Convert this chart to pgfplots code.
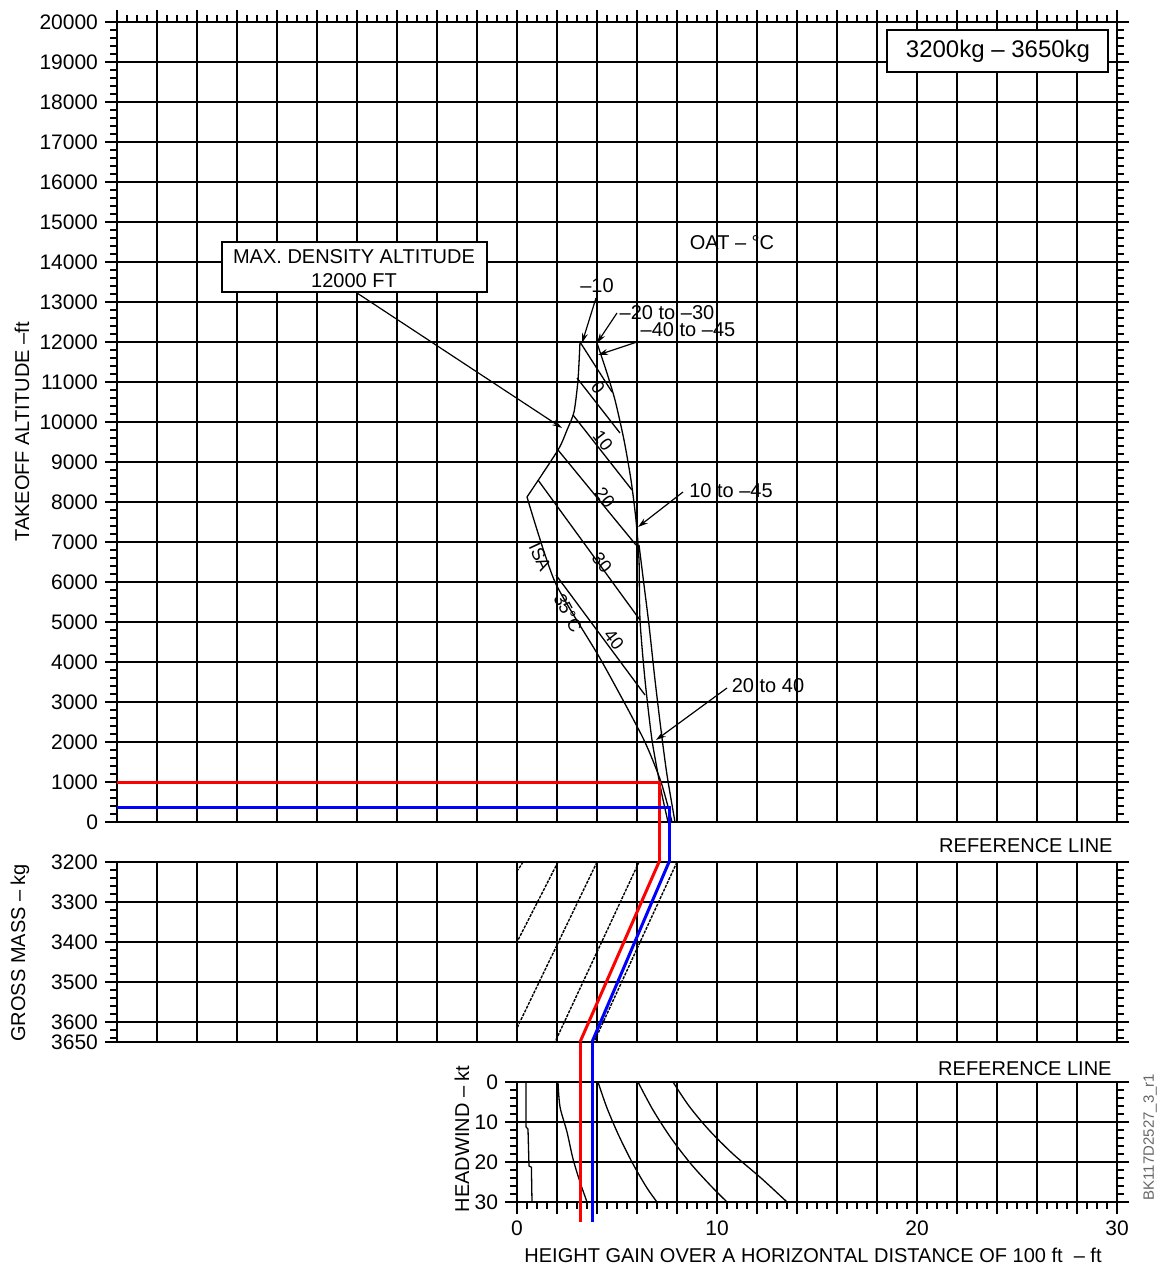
\documentclass[border=0pt]{standalone}
\usepackage{pgfplots}
\pgfplotsset{compat=1.18}
\usepackage{fontspec}
\setmainfont{Liberation Sans}
\usetikzlibrary{arrows.meta}
\tikzset{
  thinline/.style={black, line width=0.65pt},
  arr/.style={black, line width=0.6pt, -{Stealth[length=5pt,width=3pt]}},
  lab/.style={font=\fontsize{10}{12}\selectfont, inner sep=0pt},
  tlab/.style={font=\fontsize{9}{10}\selectfont, inner sep=0pt},
}
\begin{document}
\fontsize{10}{12}\selectfont
\begin{tikzpicture}
\path[use as bounding box] (0pt,0pt) rectangle (579pt,-634.5pt);
\pgfplotsset{
  every axis/.append style={
    scale only axis, clip=false,
    axis line style={line width=1.25pt},
    major grid style={line width=1.2pt, black},
    tick align=outside,
    major tick length=6pt, minor tick length=3.5pt,
    tick style={black, line width=0.85pt},
    tick label style={font=\fontsize{10.5}{12}\selectfont},
    /pgf/number format/1000 sep={},
    /pgf/number format/assume math mode=true,
  },
}
% ---------------- bottom panel (drawn first) ----------------
\begin{axis}[
  at={(258.5pt,-601pt)}, anchor=south west,
  width=300pt, height=60pt,
  xmin=0, xmax=30, ymin=0, ymax=30, y dir=reverse,
  xtick={0,2,...,30}, xticklabels={0,,,,,10,,,,,20,,,,,30},
  minor x tick num=3, xtick pos=left,
  ytick={0,10,20,30}, minor y tick num=4, ytick pos=both, yticklabel pos=left,
  grid=major,
]
\addplot[thinline] coordinates {(0.45,0)(0.45,11.2)(0.55,11.8)(0.6,21)(0.72,21.3)(0.75,30)};
\addplot[thinline, smooth] coordinates {(2.05,0)(2.15,6.2)(2.5,12.5)(2.8,19.2)(3.15,25)(3.5,30)};
\addplot[thinline, smooth] coordinates {(4.05,0)(4.5,6.5)(5.1,13.5)(5.8,20.5)(6.5,26.5)(7.0,30)};
\addplot[thinline, smooth] coordinates {(6.05,0)(6.8,7)(7.7,14)(8.7,20.5)(9.7,26)(10.5,30)};
\addplot[thinline, smooth] coordinates {(7.8,0)(8.6,6)(9.6,12)(10.8,18)(12.2,24)(13.5,30)};
\addplot[red, line width=1.5pt] coordinates {(3.15,-10.25)(3.15,35)};
\addplot[blue, line width=1.5pt] coordinates {(3.75,-10.25)(3.75,35)};
\node[lab, anchor=east] at (axis cs:29.75,-3.25) {REFERENCE LINE};
\node[lab, rotate=90] at (axis cs:-2.75,14.25) {HEADWIND – kt};
\node[lab] at (axis cs:14.8,43.25) {HEIGHT GAIN OVER A HORIZONTAL DISTANCE OF 100 ft \ – ft};
\node[font=\fontsize{7.5}{9}\selectfont, text=black!60, rotate=90, inner sep=0pt] at (axis cs:31.65,13.75) {BK117D2527\_3\_r1};
\end{axis}
% ---------------- middle panel ----------------
\begin{axis}[
  at={(58.5pt,-521pt)}, anchor=south west,
  width=500pt, height=90pt,
  xmin=-20, xmax=30, ymin=3200, ymax=3650, y dir=reverse,
  xtick={-20,-18,...,30}, xticklabels={}, xtick style={draw=none},
  ytick={3200,3300,3400,3500,3600,3650},
  minor ytick={3220,3240,3260,3280,3320,3340,3360,3380,3420,3440,3460,3480,3520,3540,3560,3580,3620,3640},
  ytick pos=both, yticklabel pos=left,
  grid=major,
]
\addplot[black, line width=0.7pt, dash pattern=on 1.5pt off 0.6pt] coordinates {(0.3,3200)(0.05,3220)};
\addplot[black, line width=0.7pt, dash pattern=on 1.5pt off 0.6pt] coordinates {(2.05,3200)(0,3400)};
\addplot[black, line width=0.7pt, dash pattern=on 1.5pt off 0.6pt] coordinates {(4.0,3200)(0,3615)};
\addplot[black, line width=0.7pt, dash pattern=on 1.5pt off 0.6pt] coordinates {(6.1,3200)(1.9,3650)};
\addplot[black, line width=0.7pt, dash pattern=on 1.5pt off 0.6pt] coordinates {(8.0,3200)(3.85,3650)};
\addplot[red, line width=1.5pt] coordinates {(7.1,3200)(3.15,3650)};
\addplot[blue, line width=1.5pt] coordinates {(7.6,3200)(3.75,3650)};
\node[lab, rotate=90] at (axis cs:-24.85,3427) {GROSS MASS – kg};
\end{axis}
% ---------------- top panel ----------------
\begin{axis}[
  at={(58.5pt,-411pt)}, anchor=south west,
  width=500pt, height=400pt,
  xmin=-20, xmax=30, ymin=0, ymax=20000,
  xtick={-20,-18,...,30}, minor x tick num=3,
  xtick pos=right, xticklabels={},
  ytick={0,1000,...,20000}, minor y tick num=4,
  ytick pos=both, yticklabel pos=left,
  scaled y ticks=false,
  grid=major,
]
% envelopes
\addplot[thinline] coordinates {(4.0,12000)(3.15,12000)};
\addplot[thinline, smooth, tension=0.4] coordinates {(3.15,12000)(3.05,11050)(2.85,10250)(2.5,9800)(2.05,9300)(0.5,8125)};
\addplot[thinline, smooth, tension=0.4] coordinates {(0.5,8125)(1.9,6000)(4.2,4050)(6.3,2100)(7.2,1000)(7.75,0)};
\addplot[thinline, smooth, tension=0.4] coordinates {(4.0,11975)(4.45,11300)(4.9,10550)(5.35,9550)(5.7,8550)(5.95,7550)(6.1,6550)(6.15,5050)(6.4,3550)(6.75,2050)(7.2,800)(7.55,0)};
\addplot[thinline, smooth, tension=0.4] coordinates {(6.1,6925)(6.35,5925)(6.6,4925)(6.9,3550)(7.2,2300)(7.5,1175)(7.9,0)};
% temperature lines
\addplot[thinline] coordinates {(3.15,12000)(4.75,10750)};
\addplot[thinline] coordinates {(3.0,11100)(5.15,9725)};
\addplot[thinline] coordinates {(2.8,10175)(5.75,8300)};
\addplot[thinline] coordinates {(2.05,9300)(5.95,6925)};
\addplot[thinline] coordinates {(1.05,8550)(6.15,5050)};
\addplot[thinline] coordinates {(1.95,6175)(6.4,3175)};
% labels on lines
\node[tlab, rotate=-52] at (axis cs:4.05,10850) {0};
\node[tlab, rotate=-52] at (axis cs:4.3,9525) {10};
\node[tlab, rotate=-52] at (axis cs:4.4,8100) {20};
\node[tlab, rotate=-52] at (axis cs:4.25,6475) {30};
\node[tlab, rotate=-52] at (axis cs:4.85,4550) {40};
\node[tlab, rotate=-65] at (axis cs:1.15,6625) {ISA};
\node[tlab, rotate=-62] at (axis cs:2.55,5225) {35°C};
% red / blue
\addplot[red, line width=1.5pt] coordinates {(-20,1000)(7.1,1000)(7.1,-1000)};
\addplot[blue, line width=1.5pt] coordinates {(-20,370)(7.6,370)(7.6,-1000)};
% annotations
\draw[line width=0.8pt, fill=white] (axis cs:-14.75,14500) rectangle (axis cs:-1.5,13250);
\node[lab] at (axis cs:-8.15,14125) {MAX. DENSITY ALTITUDE};
\node[lab] at (axis cs:-8.15,13525) {12000 FT};
\draw[arr] (axis cs:-8.0,13225) -- (axis cs:2.25,9850);
\draw[line width=0.8pt, fill=white] (axis cs:18.5,19800) rectangle (axis cs:29.55,18750);
\node[font=\fontsize{12}{14}\selectfont, inner sep=0pt] at (axis cs:24.05,19275) {3200kg – 3650kg};
\node[lab] at (axis cs:10.75,14475) {OAT – °C};
\node[lab] at (axis cs:4.0,13400) {–10};
\draw[arr] (axis cs:3.95,13100) -- (axis cs:3.25,11975);
\node[lab] at (axis cs:7.5,12725) {–20 to –30};
\draw[arr] (axis cs:5.0,12725) -- (axis cs:4.0,11975);
\node[lab] at (axis cs:8.55,12300) {–40 to –45};
\draw[arr] (axis cs:6.0,12000) -- (axis cs:4.05,11675);
\node[lab] at (axis cs:10.7,8275) {10 to –45};
\draw[arr] (axis cs:8.3,8250) -- (axis cs:6.05,7375);
\node[lab] at (axis cs:12.55,3400) {20 to 40};
\draw[arr] (axis cs:10.5,3350) -- (axis cs:6.95,2050);
\node[lab, anchor=east] at (axis cs:29.8,-600) {REFERENCE LINE};
\node[lab, rotate=90] at (axis cs:-24.75,9750) {TAKEOFF ALTITUDE –ft};
\end{axis}
\end{tikzpicture}
\end{document}
